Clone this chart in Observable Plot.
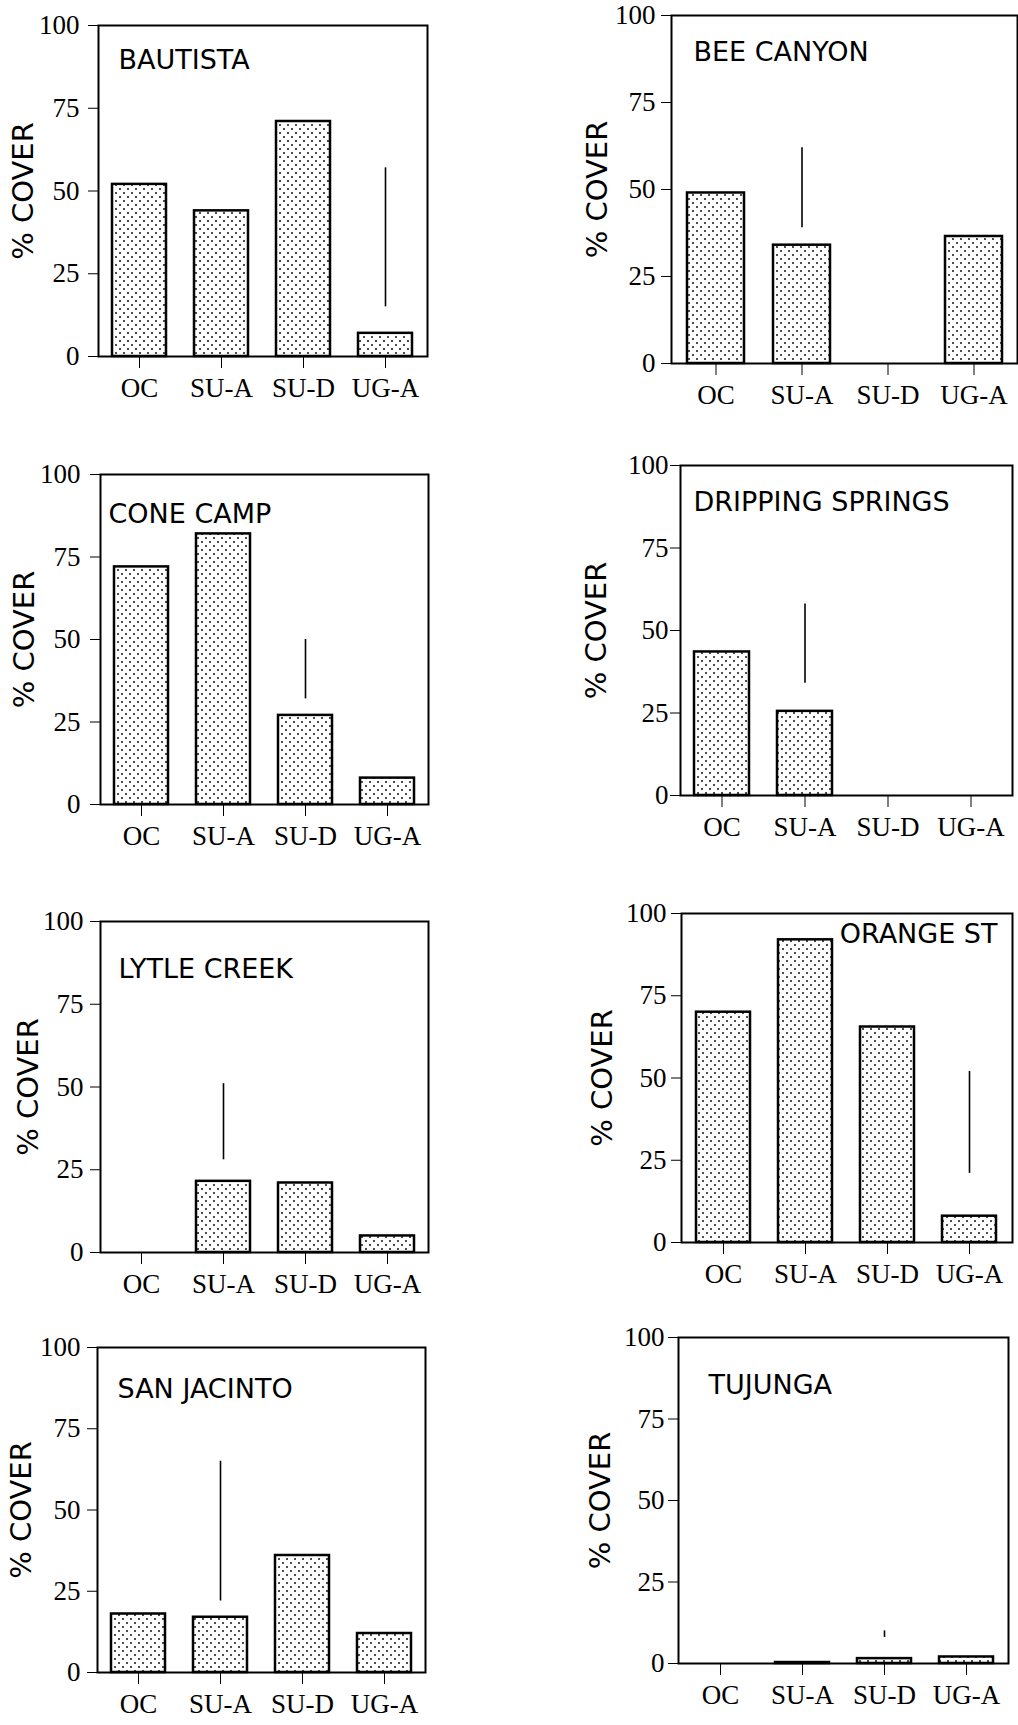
<!DOCTYPE html>
<html>
<head>
<meta charset="utf-8">
<script src="https://cdn.jsdelivr.net/npm/d3@7"></script>
<script src="https://cdn.jsdelivr.net/npm/@observablehq/plot@0.6"></script>
<style>
  html, body { margin: 0; padding: 0; background: #fff; overflow: hidden; }
  #chart { position: relative; width: 1018px; height: 1725px; }
  #chart svg { position: absolute; }
  g[aria-label="site-title"] text { letter-spacing: 1px; }
</style>
</head>
<body>
<div id="chart"></div>
<script>
// ---- data ----
const categories = ["OC", "SU-A", "SU-D", "UG-A"];
const siteNames = ["BAUTISTA", "BEE CANYON", "CONE CAMP", "DRIPPING SPRINGS",
                   "LYTLE CREEK", "ORANGE ST", "SAN JACINTO", "TUJUNGA"];
const bautista        = [52, 44, 71, 7];
const beeCanyon       = [49, 34, 0, 36.5];
const coneCamp        = [72, 82, 27, 8];
const drippingSprings = [43.5, 25.5, 0, 0];
const lytleCreek      = [0, 21.5, 21, 5];
const orangeSt        = [70, 92, 65.5, 8];
const sanJacinto      = [18, 17, 36, 12];
const tujunga         = [0, 0.3, 1.5, 2];
const siteValues = [bautista, beeCanyon, coneCamp, drippingSprings,
                    lytleCreek, orangeSt, sanJacinto, tujunga];
const rangeCategory = ["UG-A", "SU-A", "SU-D", "SU-A", "SU-A", "UG-A", "SU-A", "SU-D"];
const rangeLow  = [15, 39, 32, 34, 28, 21, 22, 8];
const rangeHigh = [57, 62, 50, 58, 51, 52, 65, 10];
const yTicks = [0, 25, 50, 75, 100];
const yLabel = "% COVER";

// ---- layout (frame edges in page pixels) ----
const layout = [
  {L: 98,  R: 427,  T: 25,   B: 356,  yLab: -75, tp: 9,  tdx: 20,  tdy: 43},
  {L: 671, R: 1017, T: 15,   B: 363,  yLab: -74, tp: 6,  tdx: 22,  tdy: 45},
  {L: 100, R: 428,  T: 474,  B: 804,  yLab: -76, tp: 10, tdx: 8,   tdy: 48},
  {L: 680, R: 1012, T: 465,  B: 795,  yLab: -84, tp: 2,  tdx: 13,  tdy: 45},
  {L: 100, R: 428,  T: 921,  B: 1252, yLab: -72, tp: 7,  tdx: 18,  tdy: 56},
  {L: 681, R: 1012, T: 913,  B: 1242, yLab: -79, tp: 5,  tdx: -15, tdy: 29, right: true},
  {L: 97,  R: 425,  T: 1347, B: 1672, yLab: -76, tp: 7,  tdx: 20,  tdy: 50},
  {L: 678, R: 1008, T: 1337, B: 1663, yLab: -78, tp: 4,  tdx: 30,  tdy: 56}
];

const ml = 100, mr = 1, mt = 6, mb = 56;
const chart = document.getElementById("chart");
const NS = "http://www.w3.org/2000/svg";

siteNames.forEach((name, k) => {
  const g = layout[k];
  const bars = categories.map((c, i) => ({cat: c, value: siteValues[k][i]})).filter(d => d.value > 0);
  const range = [{cat: rangeCategory[k], lo: rangeLow[k], hi: rangeHigh[k]}];
  const pid = "dots" + k;

  const svg = Plot.plot({
    width: (g.R - g.L) + ml + mr,
    height: (g.B - g.T) + mt + mb,
    marginLeft: ml, marginRight: mr, marginTop: mt, marginBottom: mb,
    style: {background: "transparent", overflow: "visible", fontFamily: "'Liberation Serif', 'Times New Roman', serif", fontSize: "27px", color: "#000"},
    x: {domain: categories, paddingInner: 0.34, paddingOuter: 0.17, label: null, tickSize: 12, tickPadding: 9},
    y: {domain: [0, 100], ticks: yTicks, label: null, tickSize: 10, tickPadding: g.tp},
    marks: [
      Plot.barY(bars, {x: "cat", y: "value", fill: `url(#${pid})`, stroke: "#000", strokeWidth: 2.5}),
      Plot.ruleX(range, {x: "cat", y1: "lo", y2: "hi", stroke: "#000", strokeWidth: 1.6}),
      Plot.frame({stroke: "#000", strokeWidth: 2}),
      Plot.text([name], {
        text: d => d,
        frameAnchor: g.right ? "top-right" : "top-left",
        textAnchor: g.right ? "end" : "start",
        lineAnchor: "bottom",
        dx: g.tdx, dy: g.tdy,
        fontFamily: "'DejaVu Sans', sans-serif", fontSize: 27, fill: "#000",
        ariaLabel: "site-title"
      }),
      Plot.text([yLabel], {
        text: d => d,
        frameAnchor: "left",
        textAnchor: "middle",
        lineAnchor: "middle",
        rotate: -90,
        dx: g.yLab,
        fontFamily: "'DejaVu Sans', sans-serif", fontSize: 29, fill: "#000"
      })
    ]
  });

  // stipple pattern for the bars
  const defs = document.createElementNS(NS, "defs");
  const pat = document.createElementNS(NS, "pattern");
  pat.setAttribute("id", pid);
  pat.setAttribute("patternUnits", "userSpaceOnUse");
  pat.setAttribute("width", 8);
  pat.setAttribute("height", 8);
  const bg = document.createElementNS(NS, "rect");
  bg.setAttribute("width", 8); bg.setAttribute("height", 8); bg.setAttribute("fill", "#fff");
  pat.appendChild(bg);
  [[2, 2], [6, 6]].forEach(([cx, cy]) => {
    const c = document.createElementNS(NS, "circle");
    c.setAttribute("cx", cx); c.setAttribute("cy", cy); c.setAttribute("r", 1);
    c.setAttribute("fill", "#111");
    pat.appendChild(c);
  });
  defs.appendChild(pat);
  svg.insertBefore(defs, svg.firstChild);

  svg.style.left = (g.L - ml) + "px";
  svg.style.top = (g.T - mt) + "px";
  chart.appendChild(svg);
});
</script>
</body>
</html>
